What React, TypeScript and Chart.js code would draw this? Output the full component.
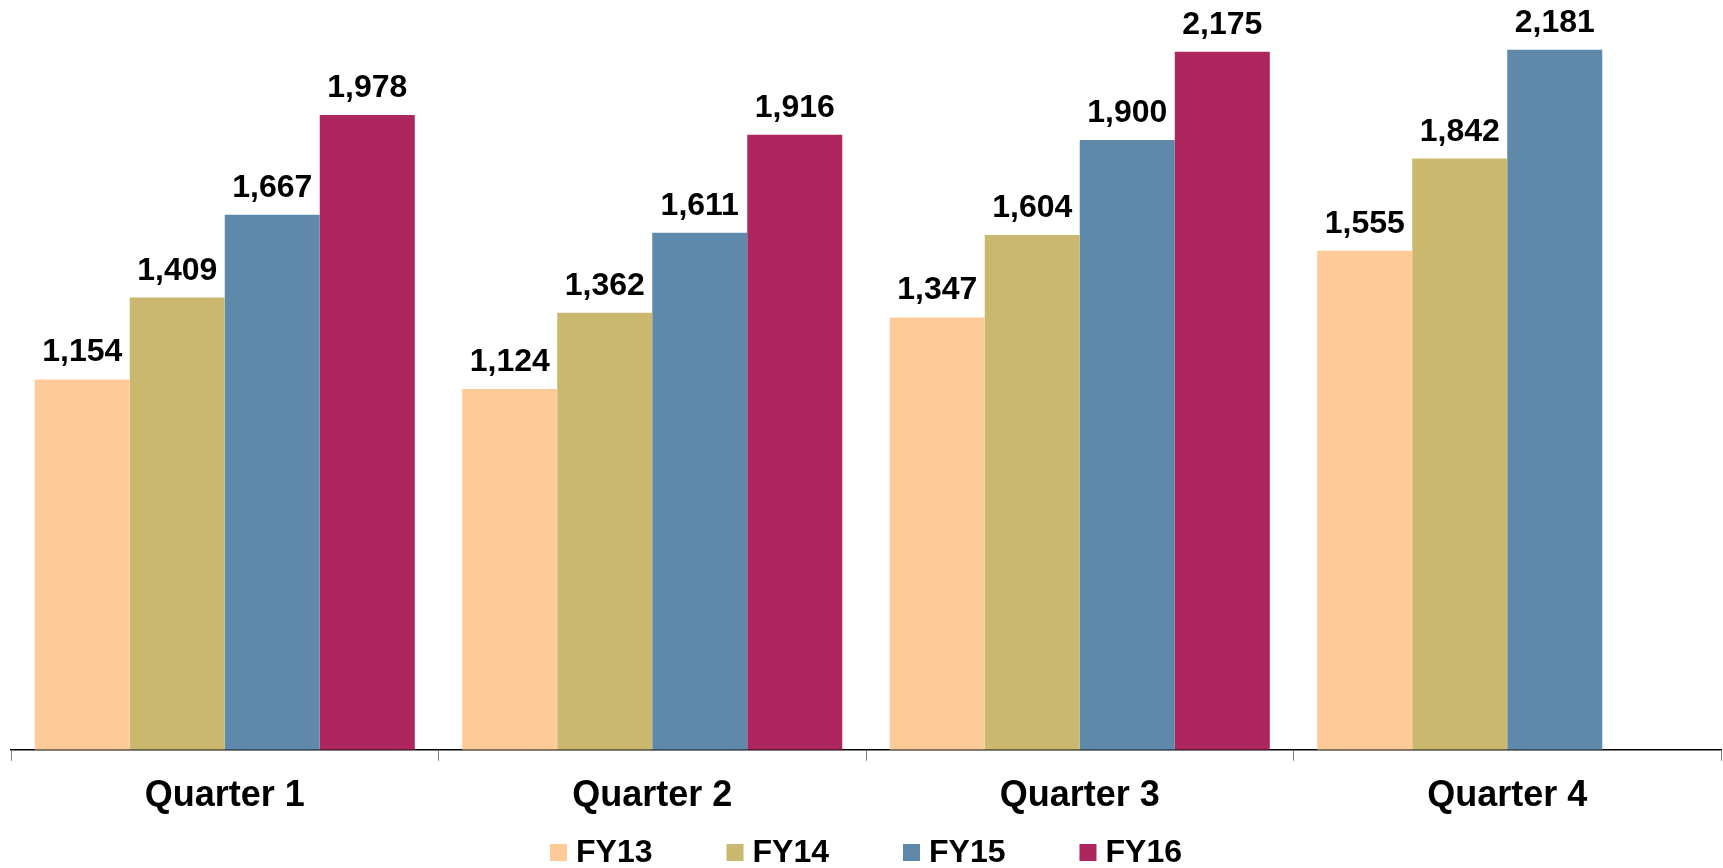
import React, { useEffect, useRef } from "react";
import { Chart, registerables } from "chart.js";

Chart.register(...registerables);

const categories = ["Quarter 1", "Quarter 2", "Quarter 3", "Quarter 4"];
const seriesNames = ["FY13", "FY14", "FY15", "FY16"];
const fy13 = [1154, 1124, 1347, 1555];
const fy14 = [1409, 1362, 1604, 1842];
const fy15 = [1667, 1611, 1900, 2181];
const fy16: (number | null)[] = [1978, 1916, 2175, null];
const seriesColors = ["#FDCA98", "#CAB86F", "#5F89AB", "#AD265E"];

const FONT = "'Liberation Sans', Arial, sans-serif";

const valueLabels = {
  id: "valueLabels",
  afterDatasetsDraw(chart: any) {
    const ctx = chart.ctx;
    ctx.save();
    ctx.font = `bold 32px ${FONT}`;
    ctx.fillStyle = "#000";
    ctx.textAlign = "center";
    ctx.textBaseline = "alphabetic";
    chart.data.datasets.forEach((ds: any, i: number) => {
      const meta = chart.getDatasetMeta(i);
      meta.data.forEach((el: any, j: number) => {
        const v = ds.data[j];
        if (v === null || v === undefined) return;
        ctx.fillText(Number(v).toLocaleString("en-US"), el.x, el.y - 18);
      });
    });
    ctx.restore();
  },
};

const bottomLegend = {
  id: "bottomLegend",
  afterDraw(chart: any) {
    const ctx = chart.ctx;
    const box = 17;
    const boxGap = 9;
    const itemGap = 74;
    ctx.save();
    ctx.font = `bold 32px ${FONT}`;
    ctx.textBaseline = "alphabetic";
    ctx.textAlign = "left";
    const items = chart.data.datasets.map((ds: any) => ({
      label: ds.label,
      color: ds.backgroundColor,
      w: ctx.measureText(ds.label).width,
    }));
    const total =
      items.reduce((s: number, it: any) => s + box + boxGap + it.w, 0) +
      itemGap * (items.length - 1);
    const area = chart.chartArea;
    let x = (area.left + area.right) / 2 - total / 2;
    const baseY = 862;
    items.forEach((it: any) => {
      ctx.fillStyle = it.color;
      ctx.fillRect(x, baseY - 18, box, box);
      ctx.fillStyle = "#000";
      ctx.fillText(it.label, x + box + boxGap, baseY);
      x += box + boxGap + it.w + itemGap;
    });
    ctx.restore();
  },
};

export default function App() {
  const canvasRef = useRef<HTMLCanvasElement | null>(null);

  useEffect(() => {
    if (!canvasRef.current) return;
    const allSeries = [fy13, fy14, fy15, fy16];
    const chart = new Chart(canvasRef.current, {
      type: "bar",
      data: {
        labels: categories,
        datasets: allSeries.map((d, i) => ({
          label: seriesNames[i],
          data: d,
          backgroundColor: seriesColors[i],
          borderWidth: 0,
          barPercentage: 1,
          categoryPercentage: 0.889,
        })),
      },
      options: {
        animation: false,
        responsive: true,
        maintainAspectRatio: false,
        layout: { padding: { top: 0, left: 11, right: 2, bottom: 36 } },
        plugins: {
          legend: { display: false },
          tooltip: { enabled: false },
        },
        scales: {
          x: {
            grid: {
              display: true,
              drawOnChartArea: false,
              drawTicks: true,
              tickLength: 11,
              color: "#808080",
              lineWidth: 1,
              offset: true,
            },
            border: { display: true, color: "#000", width: 1.5 },
            ticks: {
              color: "#000",
              padding: 14,
              font: { family: FONT, size: 36, weight: "bold" },
            },
          },
          y: {
            display: false,
            min: 0,
            max: 2336,
          },
        },
      },
      plugins: [valueLabels, bottomLegend],
    });
    return () => chart.destroy();
  }, []);

  return (
    <div
      style={{
        position: "fixed",
        left: 0,
        top: 0,
        width: 1723,
        height: 868,
        background: "#fff",
      }}
    >
      <canvas ref={canvasRef} />
    </div>
  );
}
